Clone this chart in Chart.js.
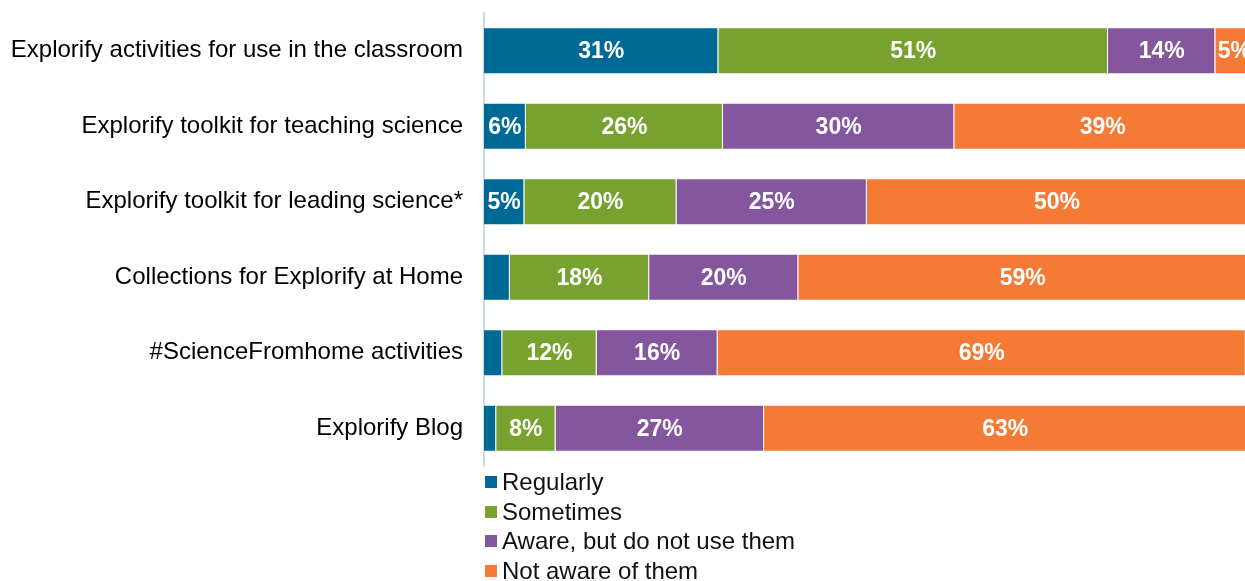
<!DOCTYPE html>
<html>
<head>
<meta charset="utf-8">
<script src="https://cdn.jsdelivr.net/npm/chart.js@4"></script>
<style>
  body { margin: 0; background: #fff; overflow: hidden; }
  #wrap { position: relative; width: 1245px; height: 581px; }
  #legend { position: absolute; left: 485px; top: 467px; font-family: "Liberation Sans", Arial, sans-serif; font-size: 24px; color: #111; }
  .item { height: 29.7px; line-height: 29.7px; display: flex; align-items: center; white-space: nowrap; }
  .box { width: 12px; height: 12px; margin-right: 5px; flex: none; }
</style>
</head>
<body>
<div id="wrap">
  <canvas id="chart" width="1245" height="581"></canvas>
  <div id="legend"></div>
</div>
<script>
const categories = [
  "Explorify activities for use in the classroom",
  "Explorify toolkit for teaching science",
  "Explorify toolkit for leading science*",
  "Collections for Explorify at Home",
  "#ScienceFromhome activities",
  "Explorify Blog"
];
const seriesNames = ["Regularly", "Sometimes", "Aware, but do not use them", "Not aware of them"];
const regularly = [30.8, 5.5, 5.3, 3.4, 2.4, 1.6];
const sometimes = [51.2, 25.9, 20.0, 18.3, 12.4, 7.8];
const aware = [14.1, 30.4, 25.0, 19.6, 15.9, 27.4];
const notAware = [5.0, 39.0, 50.0, 59.0, 69.4, 63.4];
const colors = ["#006a96", "#78a22f", "#84569e", "#f47a36"];

const font = "'Liberation Sans', Arial, sans-serif";

// white % labels in the middle of each segment
const barLabels = {
  id: "barLabels",
  afterDatasetsDraw(chart) {
    const ctx = chart.ctx;
    ctx.save();
    ctx.font = "bold 23px " + font;
    ctx.fillStyle = "#fff";
    ctx.textAlign = "center";
    ctx.textBaseline = "middle";
    chart.data.datasets.forEach((ds, i) => {
      chart.getDatasetMeta(i).data.forEach((bar, j) => {
        const v = ds.data[j];
        if (v < 4.5) return;
        const p = bar.getCenterPoint();
        ctx.fillText(Math.round(v) + "%", p.x, p.y + 1);
      });
    });
    ctx.restore();
  }
};

const values = [regularly, sometimes, aware, notAware];

const chart = new Chart(document.getElementById("chart"), {
  type: "bar",
  data: {
    labels: categories,
    datasets: seriesNames.map((name, i) => ({
      label: name,
      data: values[i],
      backgroundColor: colors[i],
      borderColor: "rgba(255,255,255,0.35)",
      borderWidth: 1,
      categoryPercentage: 1,
      barPercentage: 0.62
    }))
  },
  options: {
    indexAxis: "y",
    responsive: false,
    animation: false,
    layout: { padding: { top: 13, bottom: 115, left: 0, right: 0 } },
    plugins: {
      legend: { display: false },
      tooltip: { enabled: false }
    },
    scales: {
      x: {
        stacked: true,
        min: 0,
        max: 100,
        display: false
      },
      y: {
        stacked: true,
        grid: { display: false, drawTicks: false },
        border: { display: true, color: "#c6dbee", width: 2 },
        ticks: {
          padding: 21,
          color: "#000",
          font: { family: font, size: 24 }
        },
        afterFit(scale) {
          scale.width = 484;
          scale.paddingTop = 0;
          scale.paddingBottom = 0;
        }
      }
    }
  },
  plugins: [barLabels]
});

const legend = document.getElementById("legend");
chart.data.datasets.forEach(ds => {
  const item = document.createElement("div");
  item.className = "item";
  const box = document.createElement("span");
  box.className = "box";
  box.style.background = ds.backgroundColor;
  item.appendChild(box);
  item.appendChild(document.createTextNode(ds.label));
  legend.appendChild(item);
});
</script>
</body>
</html>
